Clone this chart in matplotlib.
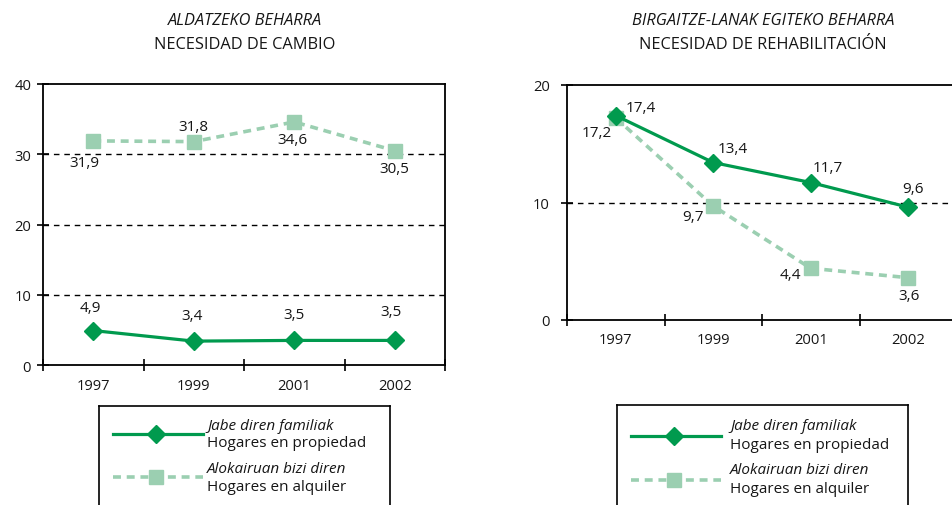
import matplotlib
matplotlib.use("Agg")
import matplotlib.pyplot as plt

plt.rcParams['font.family'] = ['Open Sans', 'DejaVu Sans']

years = ["1997", "1999", "2001", "2002"]

# Left panel: NECESIDAD DE CAMBIO
cambio_propiedad = [4.9, 3.4, 3.5, 3.5]
cambio_alquiler = [31.9, 31.8, 34.6, 30.5]
cambio_yticks = [0, 10, 20, 30, 40]

# Right panel: NECESIDAD DE REHABILITACIÓN
rehab_propiedad = [17.4, 13.4, 11.7, 9.6]
rehab_alquiler = [17.2, 9.7, 4.4, 3.6]
rehab_yticks = [0, 10, 20]

titles_eu = ["ALDATZEKO BEHARRA", "BIRGAITZE-LANAK EGITEKO BEHARRA"]
titles_es = ["NECESIDAD DE CAMBIO", "NECESIDAD DE REHABILITACIÓN"]
legend_eu = ["Jabe diren familiak", "Alokairuan bizi diren"]
legend_es = ["Hogares en propiedad", "Hogares en alquiler"]

DARK = "#009A4E"
LIGHT = "#9BCFB1"
TXT = "#161616"
FS_TICK = 10.6
FS_LAB = 11.0
FS_TITLE = 11.8
FS_LEG = 11.0

W, H = 953, 506
fig = plt.figure(figsize=(W / 100, H / 100), dpi=100)


def fx(px):
    return px / W


def fy(py):
    return 1 - py / H


def panel(rect, own, rent, yticks, own_off, rent_off, ylabpad):
    ax = fig.add_axes(rect)
    x = list(range(len(years)))
    ax.plot(x, own, color=DARK, lw=2.3, marker='D', ms=9, zorder=4, clip_on=False)
    ax.plot(x, rent, color=LIGHT, lw=2.6, ls=(0, (2.2, 1.6)), marker='s', ms=9.5,
            zorder=3, clip_on=False)
    for xi, v, o in zip(x, own, own_off):
        ax.annotate(f"{v:.1f}".replace(".", ","), (xi, v), xytext=o,
                    textcoords='offset pixels', ha='center', va='center',
                    fontsize=FS_LAB, color=TXT)
    for xi, v, o in zip(x, rent, rent_off):
        ax.annotate(f"{v:.1f}".replace(".", ","), (xi, v), xytext=o,
                    textcoords='offset pixels', ha='center', va='center',
                    fontsize=FS_LAB, color=TXT)
    ax.set_xlim(-0.5, len(years) - 0.5)
    ax.set_ylim(yticks[0], yticks[-1])
    ax.set_yticks(yticks)
    ax.set_xticks([i - 0.5 for i in range(len(years) + 1)])
    ax.set_xticklabels([])
    ax.set_xticks(x, minor=True)
    ax.set_xticklabels(years, minor=True)
    ax.tick_params(axis='x', which='major', direction='inout', length=9, width=1.2)
    ax.tick_params(axis='x', which='minor', length=0, pad=9, labelsize=FS_TICK,
                   labelcolor=TXT)
    ax.tick_params(axis='y', direction='inout', length=9, width=1.2, pad=ylabpad,
                   labelsize=FS_TICK, labelcolor=TXT)
    for yt in yticks[1:-1]:
        ax.axhline(yt, color='black', lw=1.0, ls=(0, (4, 3.5)), zorder=1)
    for s in ax.spines.values():
        s.set_linewidth(1.3)
    return ax


ax1 = panel([fx(43), fy(366), fx(445 - 43), fy(85) - fy(366)],
            cambio_propiedad, cambio_alquiler, cambio_yticks,
            [(-3, 23), (-2, 26), (0, 26), (-4, 29)],
            [(-9, -22), (0, 15), (-2, -18), (0, -18)], 4)
ax2 = panel([fx(567), fy(321), fx(957 - 567), fy(86) - fy(321)],
            rehab_propiedad, rehab_alquiler, rehab_yticks,
            [(25, 8), (19, 14), (17, 15), (5, 19)],
            [(-19, -15), (-20, -10), (-20, -6), (1, -18)], 8)
ax2.spines['right'].set_visible(False)

# Titles
for cx, teu, tes in [(245, titles_eu[0], titles_es[0]), (763, titles_eu[1], titles_es[1])]:
    fig.text(fx(cx), fy(21), teu, ha='center', va='center', fontsize=FS_TITLE,
             style='italic', color=TXT)
    fig.text(fx(cx), fy(45), tes, ha='center', va='center', fontsize=FS_TITLE,
             color=TXT)


def legend_box(left, top, line_y, text_x, text_y):
    lax = fig.add_axes([fx(left), -0.02, fx(291), fy(top) + 0.02])
    lax.set_xlim(0, 291)
    lax.set_ylim(H - top + 0.02 * H, 0)
    lax.set_xticks([])
    lax.set_yticks([])
    lax.spines['bottom'].set_visible(False)
    for s in lax.spines.values():
        s.set_linewidth(1.2)
    lax.plot([14, 104], [line_y[0]] * 2, color=DARK, lw=2.3)
    lax.plot([57], [line_y[0]], color=DARK, marker='D', ms=9)
    lax.plot([14, 104], [line_y[1]] * 2, color=LIGHT, lw=2.6, ls=(0, (2.2, 1.6)))
    lax.plot([57], [line_y[1]], color=LIGHT, marker='s', ms=9.5)
    for i in range(2):
        lax.text(text_x, text_y[i][0], legend_eu[i], style='italic', fontsize=FS_LEG,
                 va='center', ha='left', color=TXT)
        lax.text(text_x, text_y[i][1], legend_es[i], fontsize=FS_LEG,
                 va='center', ha='left', color=TXT)


legend_box(99, 407, (28, 71), 108, ((20, 37), (63, 81)))
legend_box(617, 406, (31, 75), 113, ((21, 40), (65, 84)))

fig.savefig("out.png", dpi=100)
